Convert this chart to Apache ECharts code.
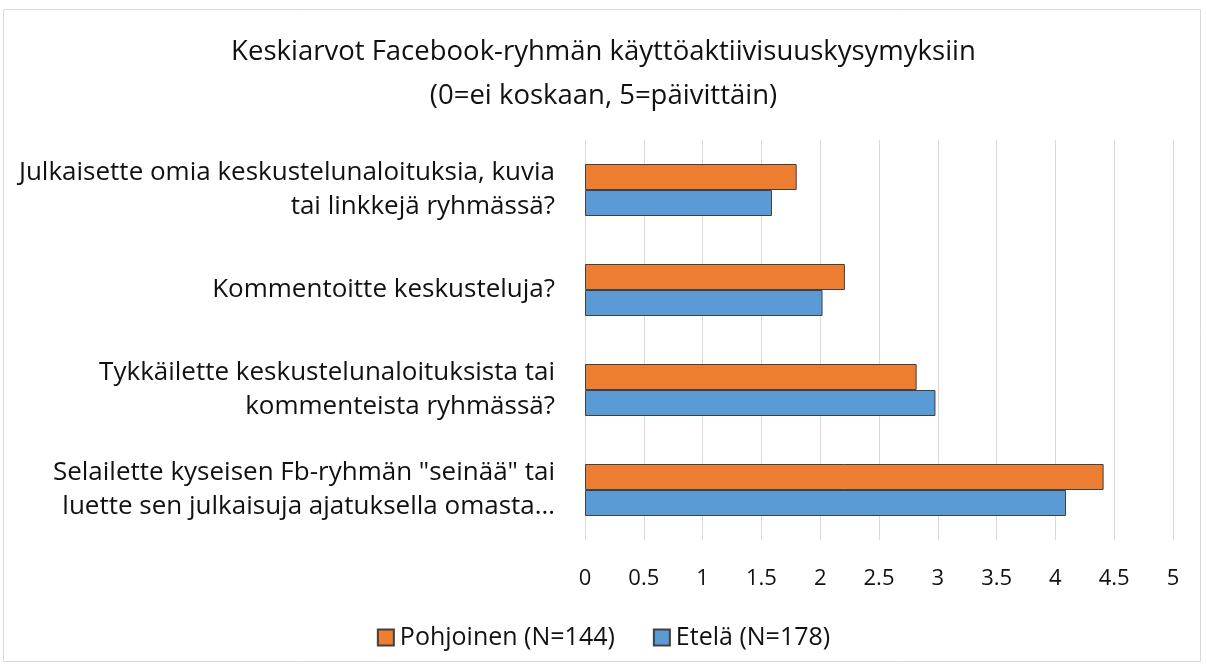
<!DOCTYPE html>
<html><head><meta charset="utf-8">
<script src="https://cdn.jsdelivr.net/npm/echarts@6/dist/echarts.min.js"></script>
<style>html,body{margin:0;padding:0;background:#fff}#c{width:1207px;height:668px}</style>
</head><body><div id="c"></div>
<script>
const categories = [
  'Julkaisette omia keskustelunaloituksia, kuvia\ntai linkkejä ryhmässä?',
  'Kommentoitte keskusteluja?',
  'Tykkäilette keskustelunaloituksista tai\nkommenteista ryhmässä?',
  'Selailette kyseisen Fb-ryhmän "seinää" tai\nluette sen julkaisuja ajatuksella omasta…'
];
const seriesNames = ['Pohjoinen (N=144)', 'Etelä (N=178)'];
const pohjoinen = [1.80, 2.21, 2.82, 4.41];
const etela = [1.59, 2.02, 2.98, 4.09];
const titleLines = ['Keskiarvot Facebook-ryhmän käyttöaktiivisuuskysymyksiin', '(0=ei koskaan, 5=päivittäin)'];

const font = '"Open Sans", "Noto Sans", sans-serif';
const chart = echarts.init(document.getElementById('c'), null, {renderer: 'canvas'});
chart.setOption({
  animation: false,
  textStyle: {fontFamily: font},
  graphic: [{type: 'rect', shape: {x: 3.5, y: 9.5, width: 1197, height: 652}, style: {fill: 'none', stroke: '#d9d9d9', lineWidth: 1}}],
  title: {
    text: titleLines.join('\n'), left: 'center', top: 25,
    textStyle: {fontFamily: font, fontSize: 27.5, fontWeight: 'normal', color: '#111', lineHeight: 44}
  },
  legend: {
    data: seriesNames, bottom: 13, left: 'center', itemWidth: 16, itemHeight: 16, itemGap: 38,
    icon: 'rect',
    textStyle: {fontFamily: font, fontSize: 25, color: '#111', padding: [0, 0, 0, 1]}
  },
  grid: {left: 585, right: 34, top: 140, bottom: 128, containLabel: false},
  xAxis: {
    type: 'value', min: 0, max: 5, interval: 0.5,
    axisLine: {show: false}, axisTick: {show: false},
    splitLine: {lineStyle: {color: '#d9d9d9', width: 1}},
    axisLabel: {fontFamily: font, fontSize: 22, color: '#111', margin: 28}
  },
  yAxis: {
    type: 'category', data: categories, inverse: true,
    axisLine: {show: false}, axisTick: {show: false},
    axisLabel: {fontFamily: font, fontSize: 26, color: '#111', margin: 30, lineHeight: 34, align: 'right'}
  },
  series: [
    {name: seriesNames[0], type: 'bar', data: pohjoinen, barGap: '0%', barCategoryGap: '48%',
     itemStyle: {color: '#ED7D31', borderColor: '#404040', borderWidth: 1}},
    {name: seriesNames[1], type: 'bar', data: etela, barGap: '0%', barCategoryGap: '48%',
     itemStyle: {color: '#5B9BD5', borderColor: '#404040', borderWidth: 1}}
  ]
});
</script></body></html>
